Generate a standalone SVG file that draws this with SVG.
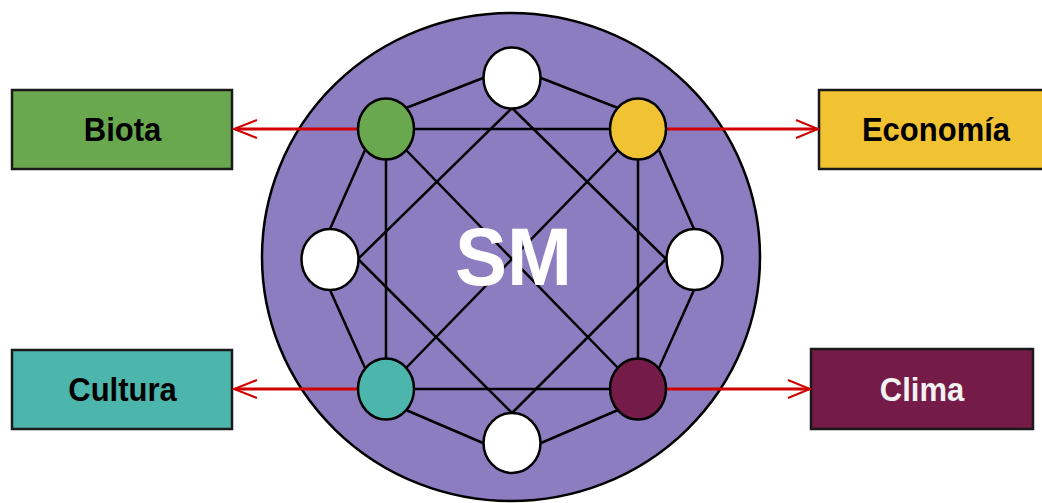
<svg xmlns="http://www.w3.org/2000/svg" width="1042" height="503" viewBox="0 0 1042 503">
<style>
.box{stroke:#1a1a1a;stroke-width:2.5}
.lbl{font-family:"Liberation Sans",Arial,sans-serif;font-weight:bold;font-size:31px;text-anchor:middle}
.edge{stroke:#000;stroke-width:2.5;fill:none}
.red{stroke:#d00000;stroke-width:3;fill:none}
.head{stroke:#d00000;stroke-width:2;fill:none;stroke-linejoin:miter}
.node{stroke:#000;stroke-width:2.5}
</style>
<rect width="1042" height="503" fill="#ffffff"/>
<g id="sm">
<ellipse cx="511" cy="257" rx="249" ry="244" fill="#8c7cc0" stroke="#000" stroke-width="2.5"/>
</g>
<g id="boxes">
<g id="biota"><rect class="box" x="12" y="90" width="220" height="79" fill="#6aa84f"/><text class="lbl" transform="translate(122.5,141) scale(1,1.08)" fill="#000">Biota</text></g>
<g id="economia"><rect class="box" x="819" y="90" width="240" height="79" fill="#f1c232"/><text class="lbl" transform="translate(936,141) scale(1,1.08)" fill="#000">Economía</text></g>
<g id="cultura"><rect class="box" x="12" y="350" width="220" height="79" fill="#4db6ac"/><text class="lbl" transform="translate(122.5,401) scale(1,1.08)" fill="#000">Cultura</text></g>
<g id="clima"><rect class="box" x="811" y="349" width="222" height="80" fill="#741b47"/><text class="lbl" transform="translate(922,401) scale(1,1.08)" fill="#f2f2f2">Clima</text></g>
</g>
<g id="connectors">
<line class="edge" x1="483" y1="78" x2="406" y2="108"/>
<line class="edge" x1="541" y1="78" x2="618" y2="108"/>
<line class="edge" x1="483" y1="443" x2="406" y2="410"/>
<line class="edge" x1="541" y1="443" x2="618" y2="410"/>
<line class="edge" x1="330" y1="229" x2="365" y2="150"/>
<line class="edge" x1="330" y1="290" x2="365" y2="368"/>
<line class="edge" x1="694" y1="229" x2="659" y2="150"/>
<line class="edge" x1="694" y1="290" x2="659" y2="368"/>
<line class="edge" x1="512" y1="108" x2="358" y2="259"/>
<line class="edge" x1="512" y1="108" x2="666" y2="259"/>
<line class="edge" x1="512" y1="413" x2="358" y2="259"/>
<line class="edge" x1="512" y1="413" x2="666" y2="259"/>
<line class="edge" x1="386" y1="129" x2="638" y2="129"/>
<line class="edge" x1="386" y1="389" x2="638" y2="389"/>
<line class="edge" x1="386" y1="129" x2="386" y2="389"/>
<line class="edge" x1="638" y1="129" x2="638" y2="389"/>
<line class="edge" x1="406" y1="150" x2="618" y2="368"/>
<line class="edge" x1="618" y1="150" x2="406" y2="368"/>
<line class="red" x1="358" y1="129" x2="235" y2="129"/>
<polyline class="head" points="257,120 234,129 257,138"/>
<line class="red" x1="666" y1="129" x2="817" y2="129"/>
<polyline class="head" points="796,120 818,129 796,138"/>
<line class="red" x1="358" y1="389" x2="235" y2="389"/>
<polyline class="head" points="257,380 234,389 257,398"/>
<line class="red" x1="666" y1="389" x2="809" y2="389"/>
<polyline class="head" points="788,380 810,389 788,398"/>
</g>
<g id="n-top"><ellipse class="node" cx="512" cy="78" rx="28.5" ry="30.5" fill="#ffffff"/></g>
<g id="n-green"><ellipse class="node" cx="386" cy="129" rx="28" ry="30.5" fill="#6aa84f"/></g>
<g id="n-yellow"><ellipse class="node" cx="638" cy="129" rx="28" ry="30.5" fill="#f1c232"/></g>
<g id="n-left"><ellipse class="node" cx="330" cy="259.5" rx="28.5" ry="30.5" fill="#ffffff"/></g>
<g id="n-right"><ellipse class="node" cx="694.5" cy="259.5" rx="28" ry="30.5" fill="#ffffff"/></g>
<g id="n-teal"><ellipse class="node" cx="386" cy="389" rx="28" ry="30.5" fill="#4db6ac"/></g>
<g id="n-maroon"><ellipse class="node" cx="638" cy="389" rx="28" ry="30.5" fill="#741b47"/></g>
<g id="n-bottom"><ellipse class="node" cx="512" cy="443" rx="28.5" ry="30" fill="#ffffff"/></g>
<g id="sm-label"><text transform="translate(513.5,285) scale(1,1.05)" font-family="'Liberation Sans',Arial,sans-serif" font-weight="bold" font-size="78" text-anchor="middle" fill="#ffffff">SM</text></g>
</svg>
